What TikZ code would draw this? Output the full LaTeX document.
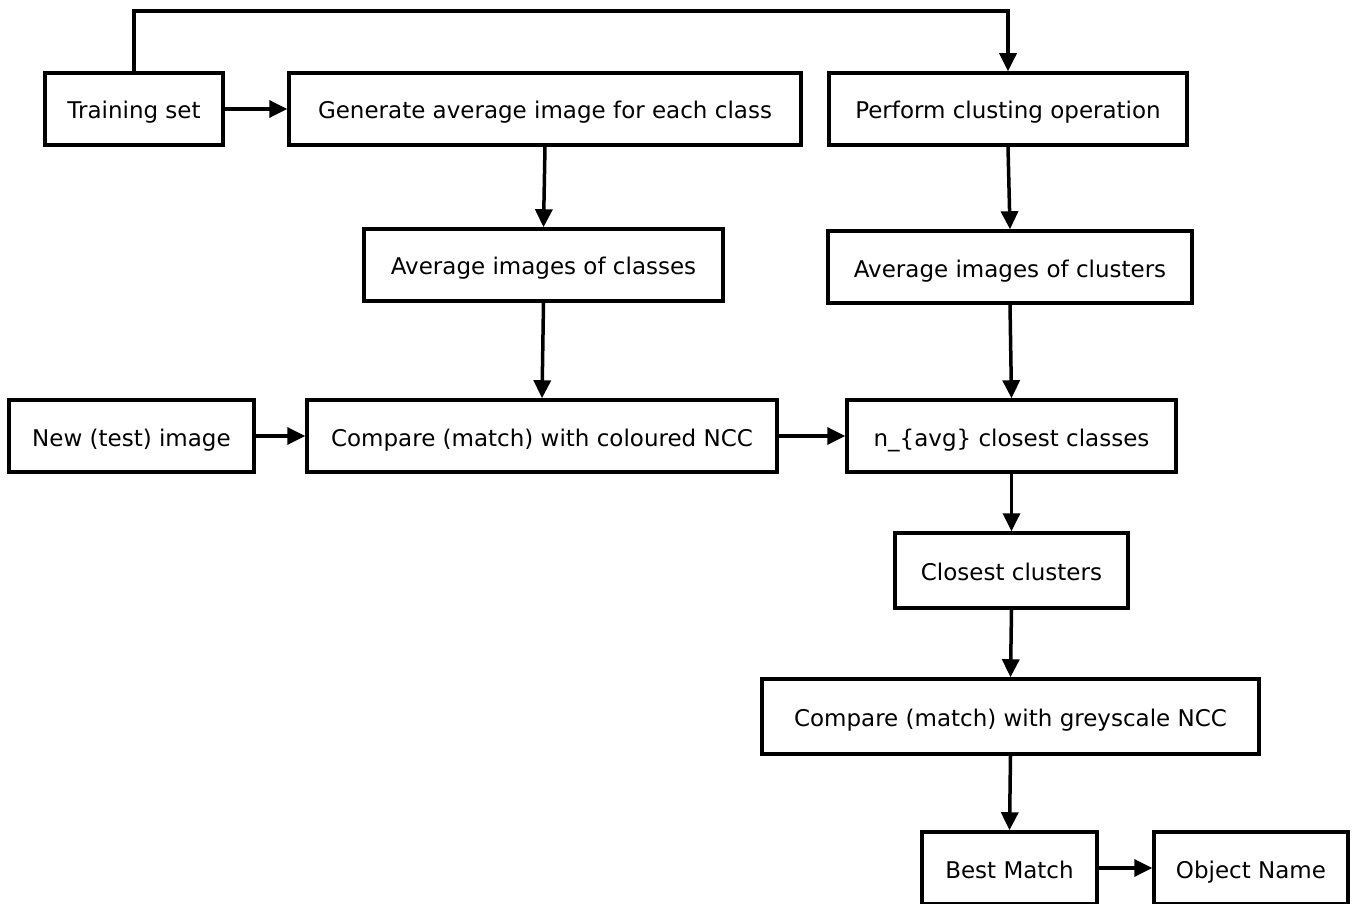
\documentclass[tikz,border=0pt]{standalone}
\usepackage{fontspec}
\setmainfont{DejaVu Sans}
\usetikzlibrary{arrows.meta}
\begin{document}
\begin{tikzpicture}[x=1pt,y=-1pt,
  box/.style={draw,line width=3.5pt,minimum height=72pt,inner sep=0pt,text height=20pt,text depth=0pt,font=\fontsize{23}{27}\selectfont},
  arr/.style={line width=3.5pt,-{Triangle[length=18pt,width=17pt]}}]
\useasboundingbox (0,0) rectangle (1358,904);
\node[box,minimum width=178pt] (train) at (134,109) {Training set};
\node[box,minimum width=512pt] (gen) at (545,109) {Generate average image for each class};
\node[box,minimum width=358pt] (perf) at (1008,109) {Perform clusting operation};
\node[box,minimum width=359pt] (avgc) at (543.5,265) {Average images of classes};
\node[box,minimum width=364pt] (avgk) at (1010,267) {Average images of clusters};
\node[box,minimum width=245pt] (new) at (131.5,436) {New (test) image};
\node[box,minimum width=470pt] (cmpc) at (542,436) {Compare (match) with coloured NCC};
\node[box,minimum width=329pt] (navg) at (1011.5,436) {n\_\{avg\} closest classes};
\node[box,minimum width=233pt,minimum height=75pt] (close) at (1011.5,570.5) {Closest clusters};
\node[box,minimum width=497pt,minimum height=75pt] (cmpg) at (1010.5,716.5) {Compare (match) with greyscale NCC};
\node[box,minimum width=175pt] (best) at (1009.5,868) {Best Match};
\node[box,minimum width=194pt] (obj) at (1251,868) {Object Name};
\coordinate (c1) at (134,11);
\coordinate (c2) at (1008,11);
\draw[arr] (train) -- (gen);
\draw[arr] (train.north) -- (c1) -- (c2) -- (perf.north);
\draw[arr] (gen.south) -- (avgc.north);
\draw[arr] (avgc.south) -- (cmpc.north);
\draw[arr] (perf.south) -- (avgk.north);
\draw[arr] (avgk.south) -- (navg.north);
\draw[arr] (new) -- (cmpc);
\draw[arr] (cmpc) -- (navg);
\draw[arr] (navg.south) -- (close.north);
\draw[arr] (close.south) -- (cmpg.north);
\draw[arr] (cmpg.south) -- (best.north);
\draw[arr] (best) -- (obj);
\end{tikzpicture}
\end{document}
